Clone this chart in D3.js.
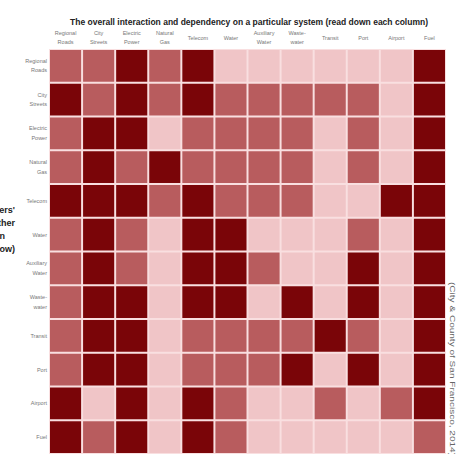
<!DOCTYPE html>
<html>
<head>
<meta charset="utf-8">
<script src="https://cdn.jsdelivr.net/npm/d3@7"></script>
<style>
  body { margin: 0; background: #fff; }
  svg { display: block; font-family: "Liberation Sans", Arial, sans-serif; }
</style>
</head>
<body>
<div id="chart"></div>
<script>
var systems = ["Regional Roads", "City Streets", "Electric Power", "Natural Gas", "Telecom", "Water",
               "Auxiliary Water", "Wastewater", "Transit", "Port", "Airport", "Fuel"];
var labelLines = [["Regional", "Roads"], ["City", "Streets"], ["Electric", "Power"], ["Natural", "Gas"],
                  ["Telecom"], ["Water"], ["Auxiliary", "Water"], ["Waste-", "water"],
                  ["Transit"], ["Port"], ["Airport"], ["Fuel"]];
// 1 = low, 2 = medium, 3 = high dependency (rows = dependent system)
var levels = [
  [2,2,3,2,3,1,1,1,1,1,1,3],
  [3,2,3,2,3,2,2,2,2,2,1,3],
  [2,3,3,1,2,2,2,2,1,2,1,3],
  [2,3,2,3,2,2,2,2,1,2,1,3],
  [3,3,3,2,3,2,2,2,1,1,3,3],
  [2,3,2,1,3,3,1,1,1,2,1,3],
  [2,3,2,1,3,3,2,1,1,3,1,3],
  [2,3,3,1,3,3,1,3,1,3,1,3],
  [2,3,3,1,2,2,2,2,3,2,1,3],
  [2,3,3,1,2,2,2,3,1,3,1,3],
  [3,1,3,1,3,2,1,1,2,1,2,3],
  [3,2,3,1,3,2,1,1,1,1,1,2]
];
var title = "The overall interaction and dependency on a particular system (read down each column)";
var sideTitle = ["Lifeline owners'", "reliance on other", "systems' operation", "(read across each row)"];
var source = "(City & County of San Francisco, 2014)";

var width = 461, height = 454;
var svg = d3.select("#chart").append("svg")
  .attr("width", width).attr("height", height);

var x = d3.scaleBand().domain(d3.range(12)).range([50, 445]).paddingInner(0.06);
var y = d3.scaleBand().domain(d3.range(12)).range([50, 453]).paddingInner(0.06);
var color = d3.scaleOrdinal().domain([1, 2, 3]).range(["#f0c5c7", "#b85c5e", "#7a0508"]);

var cells = [];
levels.forEach(function (row, i) {
  row.forEach(function (v, j) { cells.push({ r: i, c: j, v: v }); });
});

svg.append("rect")
  .attr("x", 49).attr("y", 49).attr("width", 397).attr("height", 405)
  .attr("fill", "#f9dfe0");

svg.selectAll(".cell")
  .data(cells)
  .enter().append("rect")
  .attr("class", "cell")
  .attr("x", function (d) { return x(d.c); })
  .attr("y", function (d) { return y(d.r); })
  .attr("width", x.bandwidth())
  .attr("height", y.bandwidth())
  .attr("fill", function (d) { return color(d.v); });

svg.append("text")
  .attr("x", 70).attr("y", 25)
  .attr("textLength", 358).attr("lengthAdjust", "spacingAndGlyphs")
  .attr("font-size", 9).attr("font-weight", "bold").attr("fill", "#222")
  .text(title);

// column headers
var heads = svg.selectAll(".head")
  .data(labelLines)
  .enter().append("text")
  .attr("class", "head")
  .attr("text-anchor", "middle")
  .attr("font-size", 5.5).attr("fill", "#777")
  .attr("transform", function (d, i) {
    return "translate(" + (x(i) + x.bandwidth() / 2) + "," + (d.length > 1 ? 35 : 40) + ")";
  });
heads.selectAll("tspan")
  .data(function (d) { return d; })
  .enter().append("tspan")
  .attr("x", 0).attr("dy", function (d, k) { return k ? 8.5 : 0; })
  .text(function (d) { return d; });

// row labels
var rowsLab = svg.selectAll(".rowlab")
  .data(labelLines)
  .enter().append("text")
  .attr("class", "rowlab")
  .attr("text-anchor", "end")
  .attr("font-size", 5.5).attr("fill", "#777")
  .attr("transform", function (d, i) {
    var cy = y(i) + y.bandwidth() / 2;
    return "translate(47," + (d.length > 1 ? cy - 3 : cy + 2) + ")";
  });
rowsLab.selectAll("tspan")
  .data(function (d) { return d; })
  .enter().append("tspan")
  .attr("x", 0).attr("dy", function (d, k) { return k ? 9.5 : 0; })
  .text(function (d) { return d; });

// side title, cut at the left edge
svg.append("text")
  .attr("text-anchor", "end")
  .attr("font-size", 9).attr("font-weight", "bold").attr("fill", "#222")
  .selectAll("tspan")
  .data(sideTitle)
  .enter().append("tspan")
  .attr("x", function (d, i) { return i === 2 ? 5 : 15; })
  .attr("y", function (d, i) { return 213 + i * 13; })
  .text(function (d) { return d; });

svg.append("text")
  .attr("transform", "translate(450,282) rotate(90)")
  .attr("font-size", 8).attr("fill", "#666")
  .attr("textLength", 174).attr("lengthAdjust", "spacingAndGlyphs")
  .text(source);
</script>
</body>
</html>
